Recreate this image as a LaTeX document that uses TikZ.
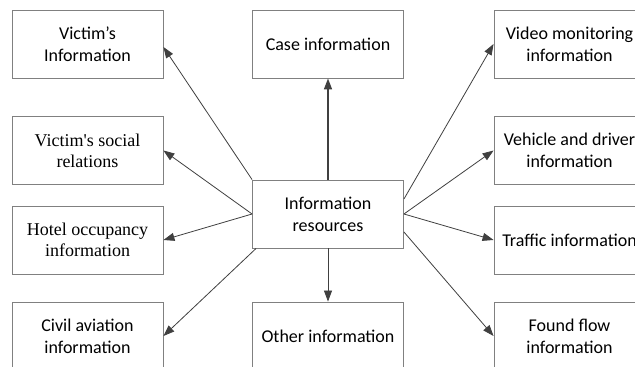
\documentclass[tikz,border=0pt]{standalone}
\usepackage{fontspec}
\setmainfont{Carlito}
\newfontfamily\timesfont{Liberation Serif}
\usetikzlibrary{arrows.meta,calc}
\definecolor{boxgray}{HTML}{808080}
\definecolor{arrgray}{HTML}{404040}
\tikzset{
  infobox/.style={draw=boxgray, line width=0.9pt, minimum width=151pt, minimum height=68pt, inner sep=0pt, align=center, font=\fontsize{18}{22}\selectfont},
  serifbox/.style={infobox, font=\timesfont\fontsize{18}{21}\selectfont},
  link/.style={draw=arrgray, line width=0.8pt, -{Triangle[length=11pt,width=8pt]}},
  thicklink/.style={link, line width=1.6pt}
}
\begin{document}
\begin{tikzpicture}[x=1pt,y=-1pt]
\useasboundingbox (0,0) rectangle (635,367);
\clip (0,0) rectangle (635,367);
\fill[white] (0,0) rectangle (635,367);
% left column
\node[infobox] (vi) at (87.5,44) {Victim's\\Information};
\node[serifbox] (so) at (87.5,150.5) {Victim's social\\relations};
\node[serifbox] (ho) at (87.5,240) {Hotel occupancy\\information};
\node[infobox] (cv) at (87.5,336) {Civil aviation\\information};
% middle column
\node[infobox] (ci) at (328,44) {Case information};
\node[infobox] (res) at (328,214) {Information\\resources};
\node[infobox] (ot) at (328,336) {Other information};
% right column
\node[infobox] (vm) at (569.5,44) {Video monitoring\\information};
\node[infobox] (vd) at (569.5,150.5) {Vehicle and driver\\information};
\node[infobox] (tr) at (569.5,240) {Traffic information};
\node[infobox] (ff) at (569.5,336) {Found flow\\information};
% connectors
\draw[thicklink] (res.north) -- (ci.south);
\draw[link] (res.south) -- (ot.north);
\draw[link] (res.north west) -- ($(vi.east)+(0,3)$);
\draw[link] (res.west) -- (so.east);
\draw[link] (res.west) -- (ho.east);
\draw[link] ($(res.south west)+(4,0)$) -- (cv.east);
\draw[link] ($(res.east)+(0,-15)$) -- (vm.west);
\draw[link] (res.east) -- (vd.west);
\draw[link] (res.east) -- (tr.west);
\draw[link] ($(res.east)+(0,18)$) -- (ff.west);
\end{tikzpicture}
\end{document}
